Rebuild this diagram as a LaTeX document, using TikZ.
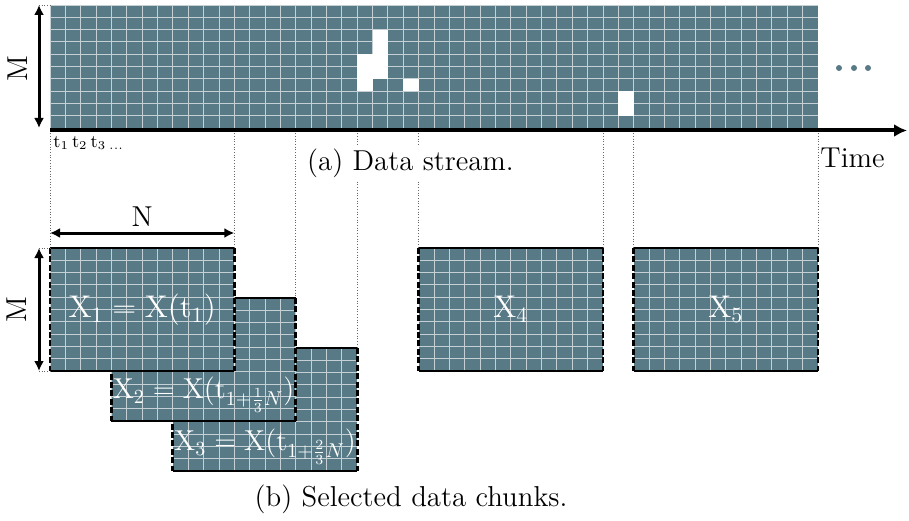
\documentclass[tikz,border=0pt]{standalone}
\usepackage{amsmath,amssymb}
\usetikzlibrary{arrows.meta}
\definecolor{slate}{RGB}{88,122,134}
\tikzset{
  cellfill/.style  = {fill=slate},
  cellgrid/.style  = {draw=white, draw opacity=0.65, line width=0.45pt,
                      xstep=\cw, ystep=\ch},
  guide/.style     = {densely dotted, black!60, line width=0.35pt},
  solidedge/.style = {black, line width=1.4pt},
  dashedge/.style  = {black, line width=1.4pt, dash pattern=on 3pt off 1.2pt},
  dimarrow/.style  = {{Latex[length=5pt,width=5pt]}-{Latex[length=5pt,width=5pt]},
                      line width=1.5pt},
  timeaxis/.style  = {-{Latex[length=6.5pt,width=6.5pt]}, line width=2pt},
  dimlabel/.style  = {font=\Large, inner sep=1pt},
  caption/.style   = {font=\Large, fill=white, inner xsep=1pt, inner ysep=2pt},
  chunklabel/.style= {font=\Large, text=white, inner sep=0pt,
                      scale=#1, transform shape},
  chunklabel/.default = 1.09
}

\begin{document}
\begin{tikzpicture}[x=0.5pt, y=0.5pt]
	\def \cw{15.36} % cell width
	\def \ch{12.3}  % cell height
	\def \W{768}    % 50 cells
	\def \H{123}    % 10 cells
	\def \N{184.32} % 12 cells

	\useasboundingbox (0,0) rectangle (909,520);

	% Data stream
	\coordinate (s0) at (50,392);
	\fill[cellfill] (s0) rectangle ++(\W,\H);
	\draw[cellgrid, shift={(s0)}] (0,0) grid (\W+0.01,\H+0.01);

	% Missing cells
	\fill[white] (50+20*\cw,392+3*\ch) rectangle ++(\cw,3*\ch); % col 20
	\fill[white] (50+21*\cw,392+4*\ch) rectangle ++(\cw,4*\ch); % col 21
	\fill[white] (50+23*\cw,392+3*\ch) rectangle ++(\cw,\ch);   % col 23
	\fill[white] (50+37*\cw,392+1*\ch) rectangle ++(\cw,2*\ch); % col 37

	% More data
	\fill[slate] (839,452) circle (3);
	\fill[slate] (854,452) circle (3);
	\fill[slate] (868,452) circle (3);

	% Chunk corners (top)
	\coordinate (x1w) at (50,272);          \coordinate (x1e) at (50+12*\cw,272);
	\coordinate (x2w) at (50+4*\cw,222);    \coordinate (x2e) at (50+16*\cw,222);
	\coordinate (x3w) at (50+8*\cw,172);    \coordinate (x3e) at (50+20*\cw,172);
	\coordinate (x4w) at (50+24*\cw,272);   \coordinate (x4e) at (50+36*\cw,272);
	\coordinate (x5w) at (50+38*\cw,272);   \coordinate (x5e) at (50+50*\cw,272);

	% Time axis
	\coordinate (t0) at (50,389.5);
	\coordinate (tend) at (907,389.5);

	% Guides
	\draw[guide] (x1w |- t0) -- (x1w);
	\draw[guide] (x1e |- t0) -- (x1e);
	\draw[guide] (x2e |- t0) -- (x2e);
	\draw[guide] (x3e |- t0) -- (x3e);
	\draw[guide] (x4w |- t0) -- (x4w);
	\draw[guide] (x4e |- t0) -- (x4e);
	\draw[guide] (x5w |- t0) -- (x5w);
	\draw[guide] (x5e |- t0) -- (x5e);

	\draw[timeaxis] (t0) -- (tend);

	% Labels of the stream
	\node[anchor=north west, inner sep=1pt, font=\small] (tlab) at (51,386)
		{$\mathrm{t}_1\,\mathrm{t}_2\,\mathrm{t}_3\,{}_{\dots}$};
	\node[dimlabel, anchor=west] (time) at (818,362) {Time};
	\node[caption] (capa) at (410.5,357) {(a) Data stream.};

	% M (stream)
	\coordinate (m1t) at (39,515);
	\coordinate (m1b) at (39,392);
	\draw[guide] (m1t) -- (m1t -| s0);
	\draw[dimarrow] (m1t) -- (m1b);
	\node[dimlabel, rotate=90] (m1lab) at (18,451) {M};

	% Chunk 5
	\fill[cellfill] (x5w) rectangle ++(\N,-\H);
	\draw[cellgrid, shift={(x5w)}] (0,0) grid (\N+0.01,-\H-0.01);
	\draw[solidedge] (x5w) -- (x5e) ++(0,-\H) -- ++(-\N,0);
	\draw[dashedge] (x5w) -- ++(0,-\H) (x5e) -- ++(0,-\H);
	\node[chunklabel] (x5lab) at ([shift={(\N/2,-\H/2)}]x5w) {$\mathrm{X}_5$};

	% Chunk 4
	\fill[cellfill] (x4w) rectangle ++(\N,-\H);
	\draw[cellgrid, shift={(x4w)}] (0,0) grid (\N+0.01,-\H-0.01);
	\draw[solidedge] (x4w) -- (x4e) ++(0,-\H) -- ++(-\N,0);
	\draw[dashedge] (x4w) -- ++(0,-\H) (x4e) -- ++(0,-\H);
	\node[chunklabel] (x4lab) at ([shift={(\N/2,-\H/2)}]x4w) {$\mathrm{X}_4$};

	% Chunk 3
	\fill[cellfill] (x3w) rectangle ++(\N,-\H);
	\draw[cellgrid, shift={(x3w)}] (0,0) grid (\N+0.01,-\H-0.01);
	\draw[solidedge] (x3w) -- (x3e) ++(0,-\H) -- ++(-\N,0);
	\draw[dashedge] (x3w) -- ++(0,-\H) (x3e) -- ++(0,-\H);
	\node[chunklabel=1] (x3lab) at ([shift={(\N/2,-99)}]x3w)
		{$\mathrm{X}_3 = \mathrm{X}(\mathrm{t}_{1+\frac{2}{3}N})$};

	% Chunk 2
	\fill[cellfill] (x2w) rectangle ++(\N,-\H);
	\draw[cellgrid, shift={(x2w)}] (0,0) grid (\N+0.01,-\H-0.01);
	\draw[solidedge] (x2w) -- (x2e) ++(0,-\H) -- ++(-\N,0);
	\draw[dashedge] (x2w) -- ++(0,-\H) (x2e) -- ++(0,-\H);
	\node[chunklabel=1] (x2lab) at ([shift={(\N/2,-97)}]x2w)
		{$\mathrm{X}_2 = \mathrm{X}(\mathrm{t}_{1+\frac{1}{3}N})$};

	% Chunk 1
	\fill[cellfill] (x1w) rectangle ++(\N,-\H);
	\draw[cellgrid, shift={(x1w)}] (0,0) grid (\N+0.01,-\H-0.01);
	\draw[solidedge] (x1w) -- (x1e) ++(0,-\H) -- ++(-\N,0);
	\draw[dashedge] (x1w) -- ++(0,-\H) (x1e) -- ++(0,-\H);
	\node[chunklabel] (x1lab) at ([shift={(\N/2,-\H/2)}]x1w)
		{$\mathrm{X}_1 = \mathrm{X}(\mathrm{t}_1)$};

	% N
	\coordinate (nl) at (50,287);
	\coordinate (nr) at (50+12*\cw,287);
	\draw[dimarrow] (nl) -- (nr);
	\path (nl) -- (nr) node[dimlabel, midway, above=2pt] (nlab) {N};

	% M (chunk)
	\coordinate (m2t) at (39,272);
	\coordinate (m2b) at (39,149);
	\draw[guide] (m2t) -- (x1w);
	\draw[guide] (m2b) -- (m2b -| x1w);
	\draw[dimarrow] (m2t) -- (m2b);
	\node[dimlabel, rotate=90] (m2lab) at (17,210) {M};

	\node[caption] (capb) at (411,21) {(b) Selected data chunks.};

\end{tikzpicture}
\end{document}
